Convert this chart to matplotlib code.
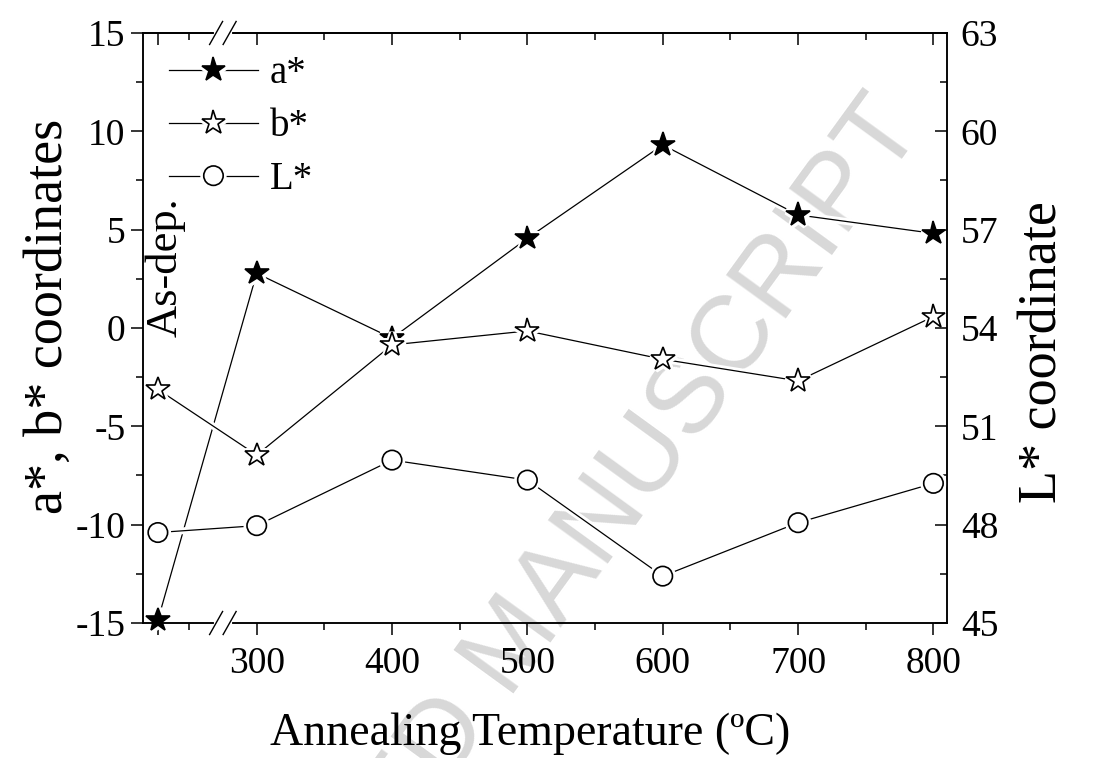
import numpy as np
import matplotlib
matplotlib.use("Agg")
import matplotlib.pyplot as plt
import matplotlib.patheffects as pe
from matplotlib.ticker import MultipleLocator, FixedLocator

plt.rcParams["font.family"] = ["Liberation Serif", "DejaVu Serif"]
plt.rcParams["axes.unicode_minus"] = False

# %%
# data (As-dep. sample sits left of the axis break)
temps = [300, 400, 500, 600, 700, 800]
as_dep_x = 227
a_star = [-14.85, 2.78, -0.52, 4.56, 9.31, 5.75, 4.81]
b_star = [-3.12, -6.46, -0.86, -0.15, -1.59, -2.69, 0.58]
l_star = [47.76, 47.97, 49.97, 49.36, 46.43, 48.06, 49.26]
minor_x = [250, 350, 450, 550, 650, 750]

x = [as_dep_x] + temps

# %%
fig = plt.figure(figsize=(10.95, 7.58), dpi=100)
ax = fig.add_axes([0.1306, 0.1781, 0.7342, 0.7784])
ax.set_facecolor("none")

# watermark behind everything
fig.text(0.490, 0.127, "ACCEPTED MANUSCRIPT", rotation=54, rotation_mode="anchor",
         ha="center", va="baseline", fontsize=77, color="#d8d8d8",
         family="Liberation Sans", zorder=-1)

halo = [pe.Stroke(linewidth=5, foreground="white"), pe.Normal()]
kw = dict(color="black", lw=0.9, mec="black", mew=1.2, clip_on=False, path_effects=halo)

la, = ax.plot(x, a_star, marker="*", ms=18, mfc="black", label="a*", **kw)
lb, = ax.plot(x, b_star, marker="*", ms=18, mfc="white", label="b*", **kw)

ax2 = ax.twinx()
ll, = ax2.plot(x, l_star, marker="o", ms=14, mfc="white", label="L*", **kw)

# %%
ax.set_xlim(216, 810)
ax.set_ylim(-15, 15)
ax2.set_ylim(45, 63)

ax.xaxis.set_major_locator(FixedLocator(x))
ax.set_xticklabels([""] + [str(t) for t in temps])
ax.xaxis.set_minor_locator(FixedLocator(minor_x))
ax.yaxis.set_major_locator(MultipleLocator(5))
ax.yaxis.set_minor_locator(MultipleLocator(2.5))
ax2.yaxis.set_major_locator(MultipleLocator(3))
ax2.yaxis.set_minor_locator(MultipleLocator(1.5))

ax.tick_params(which="major", direction="out", length=8.6, width=1.1, labelsize=27, pad=4)
ax.tick_params(which="minor", direction="out", length=5, width=1.1)
ax.tick_params(axis="x", which="major", pad=8)
ax2.tick_params(which="major", direction="in", length=8.6, width=1.1, labelsize=27, pad=10)
ax2.tick_params(which="minor", direction="in", length=5, width=1.1)

secax = ax.secondary_xaxis("top")
secax.xaxis.set_major_locator(FixedLocator(x))
secax.xaxis.set_minor_locator(FixedLocator(minor_x))
secax.tick_params(which="major", direction="in", length=8.6, width=1.1, labeltop=False)
secax.tick_params(which="minor", direction="in", length=5, width=1.1)

for a in (ax, ax2, secax):
    for s in a.spines.values():
        s.set_linewidth(1.1)

# axis break marks
trans = ax2.get_xaxis_transform()
for yb in (0, 1):
    ax2.plot([270, 280], [yb, yb], color="white", lw=3, transform=trans, clip_on=False, zorder=5)
    for xb in (270, 280):
        ax2.plot([xb - 4.8, xb + 4.8], [yb - 0.0195, yb + 0.0195], color="black", lw=1,
                 transform=trans, clip_on=False, zorder=6)

ax.text(0.028, 0.603, "As-dep.", rotation=90, ha="center", va="center",
        fontsize=32, transform=ax.transAxes)

ax.set_xlabel("Annealing Temperature (ºC)", fontsize=33)
ax.xaxis.set_label_coords(0.481, -0.152)
ax.set_ylabel("a*, b* coordinates", fontsize=39)
ax.yaxis.set_label_coords(-0.086, 0.52)
ax2.set_ylabel("L* coordinate", fontsize=39)
ax2.yaxis.set_label_coords(1.088, 0.459)

leg = ax2.legend(handles=[la, lb, ll], loc="upper left", bbox_to_anchor=(0.032, 0.962),
                 frameon=False, fontsize=28, numpoints=1, handlelength=2.3,
                 handletextpad=0.3, labelspacing=0.41, borderpad=0, borderaxespad=0)

fig.savefig("out.png", dpi=100)
